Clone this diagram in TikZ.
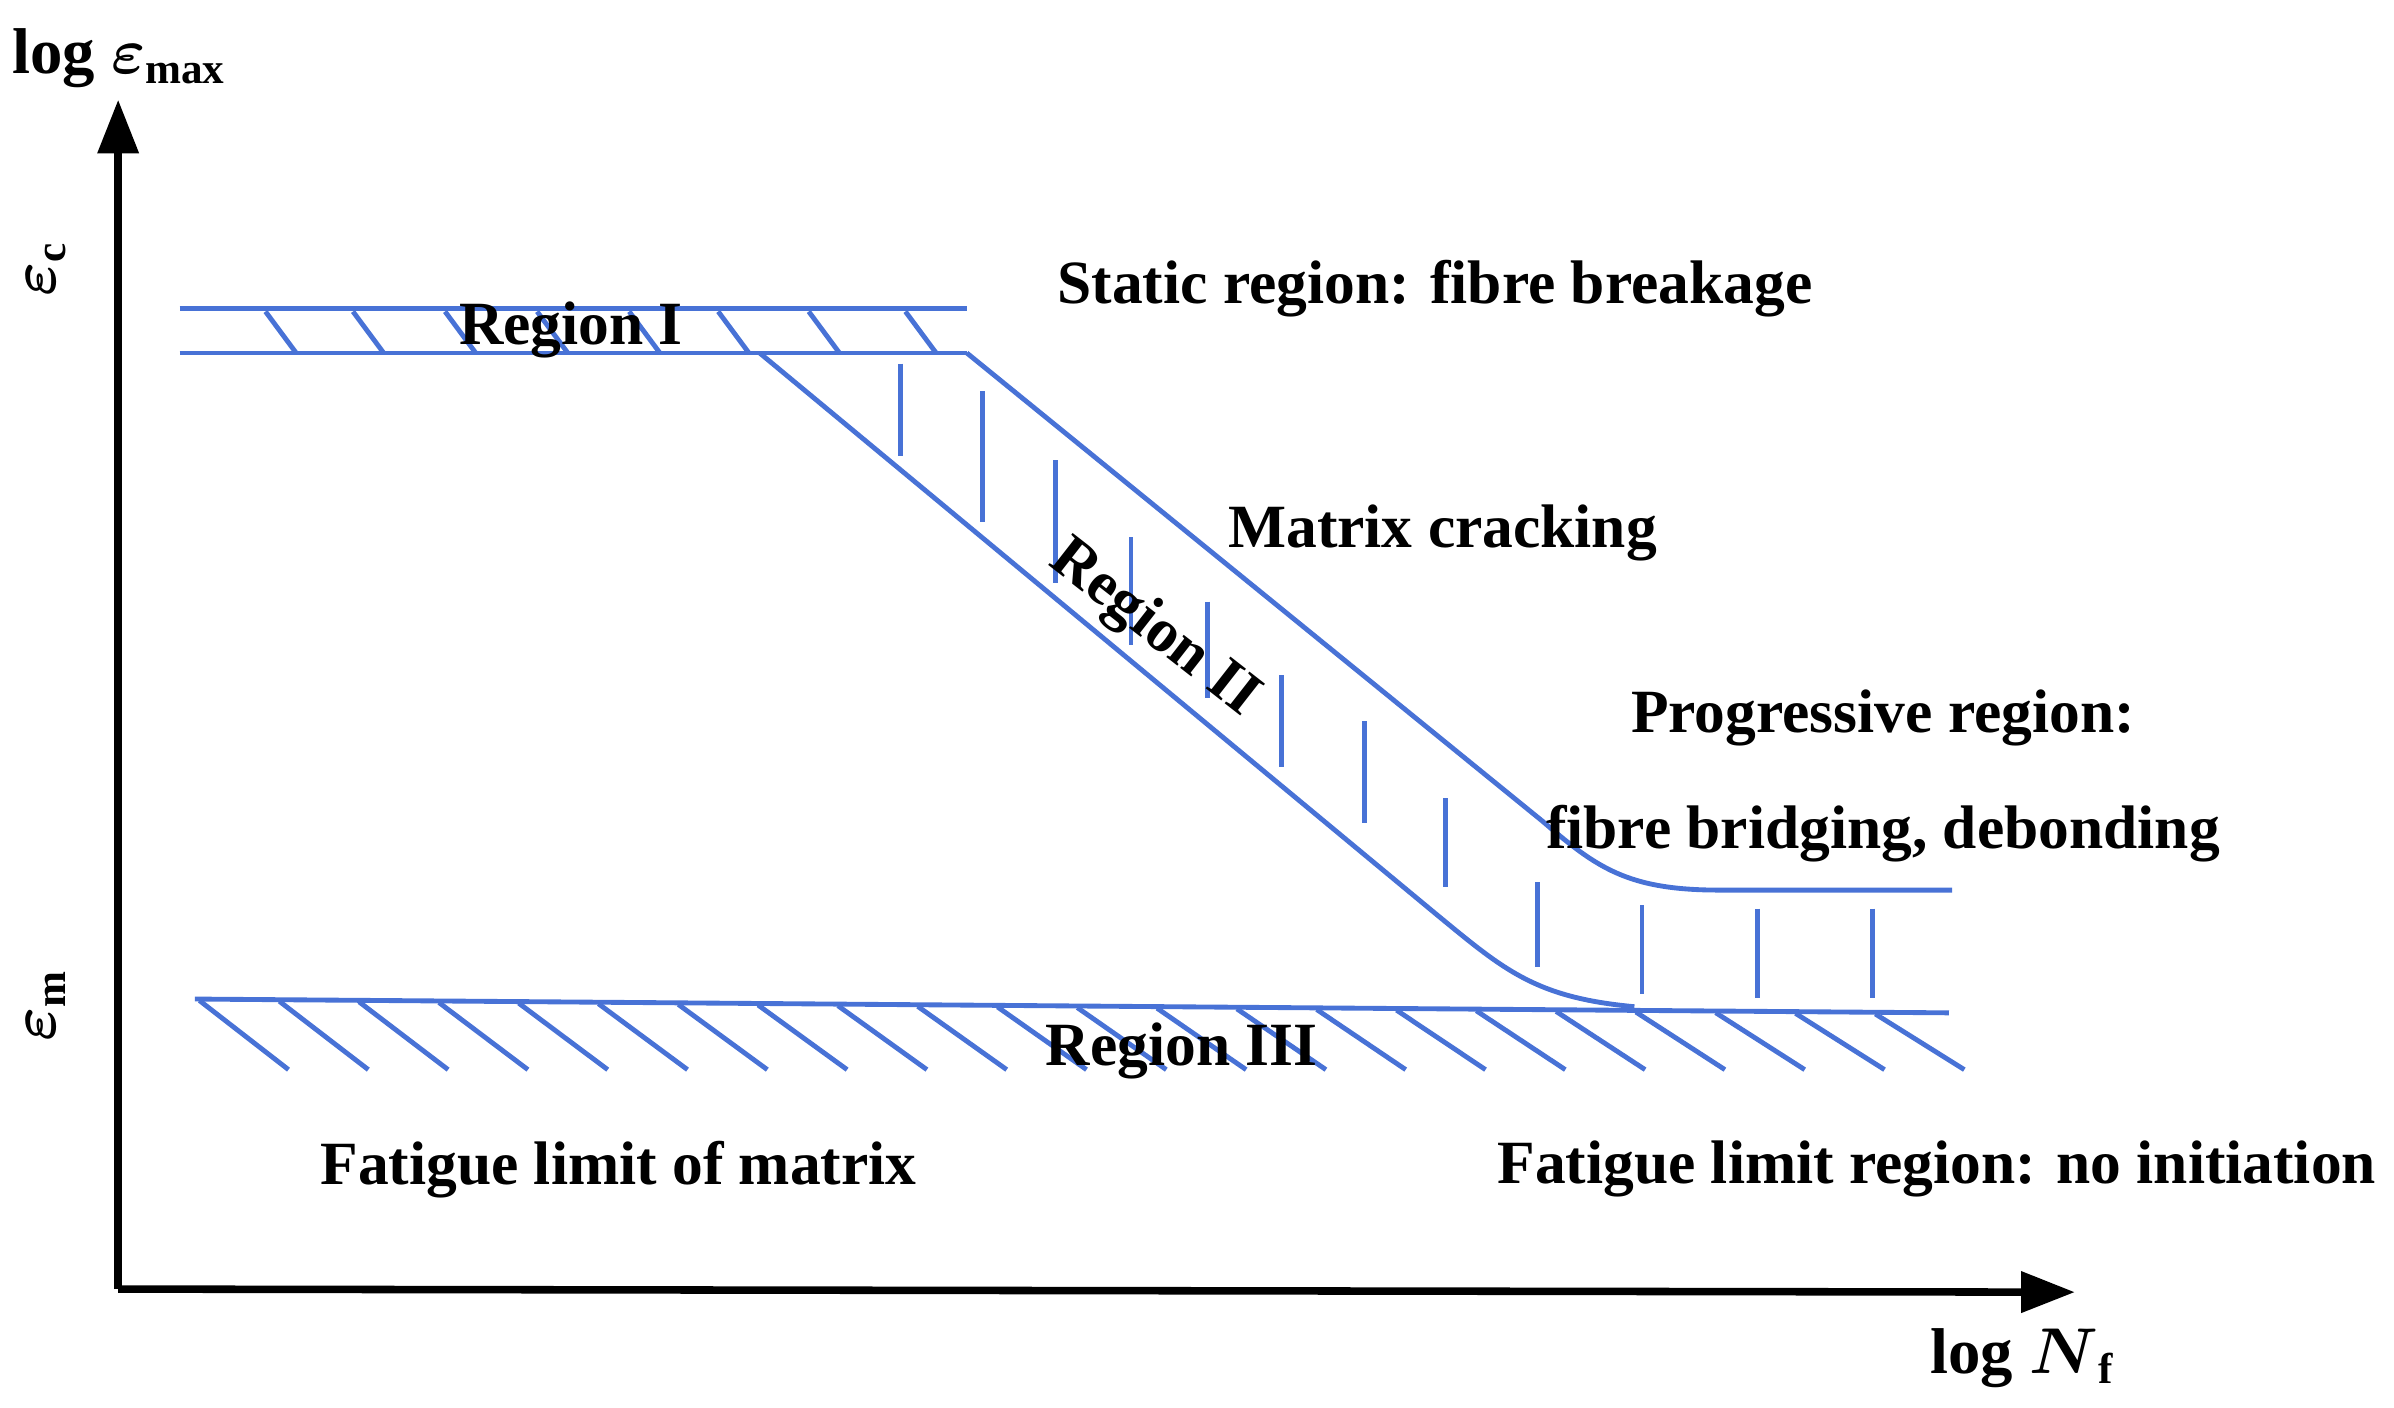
\documentclass[tikz,border=0pt]{standalone}
\usepackage{amsmath}
\usepackage{fontspec}
\setmainfont{Liberation Serif}
\usetikzlibrary{arrows.meta}
\definecolor{bl}{RGB}{72,114,214}
\begin{document}
\begin{tikzpicture}[x=0.1mm,y=-0.1mm,
  cur/.style={bl,line width=0.9pt},
  lab/.style={font=\fontsize{11.4}{13}\selectfont\bfseries},
  big/.style={font=\fontsize{12}{14}\selectfont\bfseries},
  ax/.style={line width=1.4pt,-{Triangle[length=3.5mm,width=2.6mm]}}]
\useasboundingbox (0,0) rectangle (1560,917);
% axes
\coordinate (o) at (77,840);
\coordinate (yt) at (77,65);
\coordinate (xt) at (1352,842);
\draw[ax] (o) -- (yt);
\draw[ax] (o) -- (xt);
\node[big] (ylab) at (78,38) {log $\boldsymbol{\varepsilon}_{\textbf{max}}$};
\node[big] (xlab) at (1318,885) {log $\boldsymbol{N}_{\textbf{f}}$};
\node[big,rotate=90] (ec) at (30,175) {$\boldsymbol{\varepsilon}_{\textbf{c}}$};
\node[big,rotate=90] (em) at (30,655) {$\boldsymbol{\varepsilon}_{\textbf{m}}$};
% Region I
\draw[cur] (117,201) -- (630,201);
\draw[cur] (117,230) -- (630,230);
\foreach \x in {173,230,290,350,410,468,527,590} \draw[cur] (\x,203) -- (\x+20,230);
% Region II
\draw[cur] (630,230) -- (1005,535) .. controls (1040,565) and (1060,580) .. (1120,580) -- (1272,580);
\draw[cur] (495,230) -- (935,595) .. controls (980,632) and (1000,650) .. (1065,656);
\foreach \x/\a/\b in {587/237/297,640/255/340,688/300/380,737/350/420,787/392/455,835/440/500,889/470/536,942/520/578,1002/575/630,1070/590/648,1145/592/650,1220/592/650}
  \draw[cur] (\x,\a) -- (\x,\b);
% Region III
\draw[cur] (127,651) -- (1270,660);
\foreach \i in {0,...,21} \draw[cur] (130+52*\i,652+0.008*52*\i) -- (188+52*\i,697);
% labels
\node[lab] (r1) at (372,215) {Region I};
\node[lab,rotate=-38] (r2) at (752,410) {Region II};
\node[lab] (r3) at (770,685) {Region III};
\node[lab] (t1) at (935,188) {Static region: fibre breakage};
\node[lab] (t2) at (940,347) {Matrix cracking};
\node[lab] (t3) at (1227,468) {Progressive region:};
\node[lab] (t4) at (1227,543) {fibre bridging, debonding};
\node[lab] (t5) at (403,762) {Fatigue limit of matrix};
\node[lab] (t6) at (1262,762) {Fatigue limit region: no initiation};
\end{tikzpicture}
\end{document}
